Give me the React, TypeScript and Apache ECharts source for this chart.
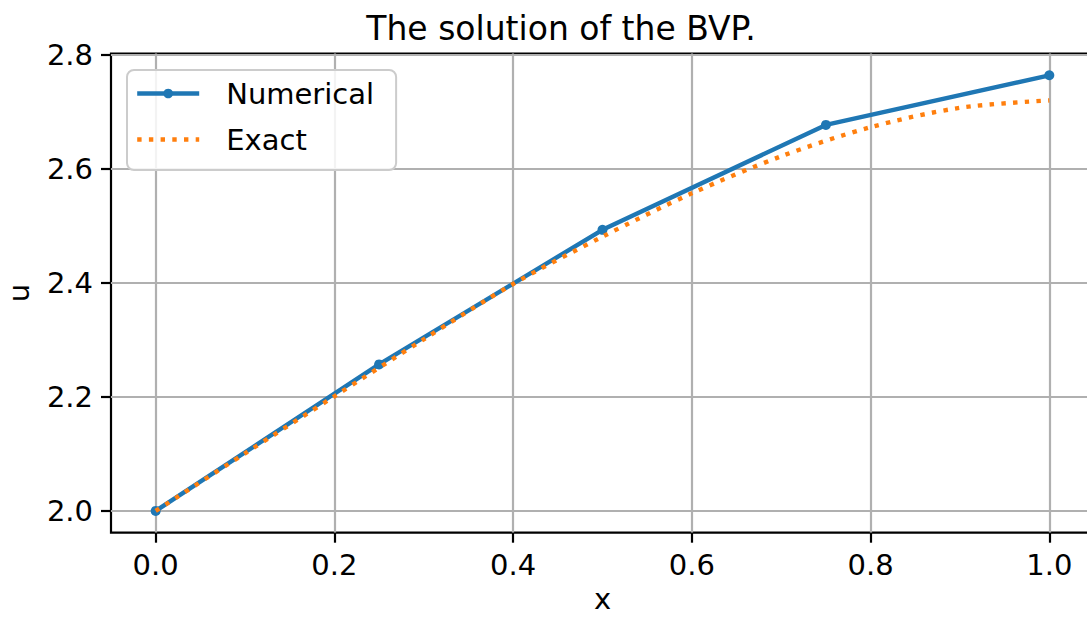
import React, { useEffect, useRef } from "react";
import * as echarts from "echarts";

// Numerical solution (nodes)
const numX: number[] = [0, 0.25, 0.5, 0.75, 1.0];
const numU: number[] = [2.0, 2.257, 2.493, 2.677, 2.764];

// Exact solution (sampled)
const exactX: number[] = [0, 0.1, 0.2, 0.3, 0.4, 0.5, 0.6, 0.7, 0.8, 0.9, 1.0];
const exactU: number[] = [2.0, 2.101, 2.201, 2.301, 2.398, 2.481, 2.557, 2.622, 2.673, 2.707, 2.72];

const xTicks: number[] = [0.0, 0.2, 0.4, 0.6, 0.8, 1.0];
const yTicks: number[] = [2.0, 2.2, 2.4, 2.6, 2.8];

const FONT = "DejaVu Sans";

export default function App() {
  const ref = useRef<HTMLDivElement>(null);
  useEffect(() => {
    if (!ref.current) return;
    const chart = echarts.init(ref.current, undefined, { renderer: "svg" });
    const allU = numU.concat(exactU);
    const uMin = Math.min(...allU);
    const uMax = Math.max(...allU);
    const uPad = (uMax - uMin) * 0.05;
    const xPad = (1.0 - 0.0) * 0.05;
    chart.setOption({
      animation: false,
      backgroundColor: "#ffffff",
      title: {
        text: "The solution of the BVP.",
        left: 556,
        top: 7,
        textAlign: "center",
        textStyle: { fontFamily: FONT, fontSize: 33, fontWeight: "normal", color: "#000" },
      },
      legend: {
        orient: "vertical",
        left: 127,
        top: 70,
        itemWidth: 62,
        itemHeight: 12,
        itemGap: 17,
        padding: [9, 22, 16, 8],
        backgroundColor: "rgba(255,255,255,0.85)",
        borderColor: "#cccccc",
        borderWidth: 2,
        borderRadius: 7,
        lineStyle: { width: 4.4 },
        data: [
          { name: "Numerical" },
          { name: "Exact", itemStyle: { color: "rgba(0,0,0,0)", borderWidth: 0 } },
        ],
        textStyle: { fontFamily: FONT, fontSize: 29, color: "#000", padding: [0, 0, 0, 22] },
      },
      grid: {
        left: 111,
        right: -7,
        top: 53.5,
        bottom: 84.3,
        outerBoundsMode: "none",
        containLabel: false,
        show: true,
        borderColor: "#000",
        borderWidth: 2.2,
        backgroundColor: "transparent",
      },
      xAxis: {
        type: "value",
        min: 0 - xPad,
        max: 1 + xPad,
        name: "x",
        nameLocation: "middle",
        nameGap: 54,
        nameTextStyle: { fontFamily: FONT, fontSize: 29, lineHeight: 24, color: "#000" },
        axisLine: { show: false, onZero: false },
        axisTick: {
          show: true,
          inside: false,
          length: 10,
          customValues: xTicks,
          lineStyle: { color: "#000", width: 2.2 },
        },
        axisLabel: {
          customValues: xTicks,
          margin: 18,
          fontFamily: FONT,
          fontSize: 29,
          color: "#000",
          formatter: (v: number) => v.toFixed(1),
        },
        splitLine: { show: true, lineStyle: { color: "#b0b0b0", width: 2.2 } },
      },
      yAxis: {
        type: "value",
        min: uMin - uPad,
        max: uMax + uPad,
        name: "u",
        nameLocation: "middle",
        nameGap: 78,
        nameRotate: 90,
        nameTextStyle: { fontFamily: FONT, fontSize: 29, color: "#000" },
        axisLine: { show: false, onZero: false },
        axisTick: {
          show: true,
          inside: false,
          length: 10,
          customValues: yTicks,
          lineStyle: { color: "#000", width: 2.2 },
        },
        axisLabel: {
          customValues: yTicks,
          margin: 18,
          fontFamily: FONT,
          fontSize: 29,
          color: "#000",
          formatter: (v: number) => v.toFixed(1),
        },
        splitLine: { show: true, lineStyle: { color: "#b0b0b0", width: 2.2 } },
      },
      series: [
        {
          name: "Numerical",
          type: "line",
          data: numX.map((x, i) => [x, numU[i]]),
          symbol: "circle",
          symbolSize: 10,
          showSymbol: true,
          itemStyle: { color: "#1f77b4" },
          lineStyle: { color: "#1f77b4", width: 4.4 },
          z: 3,
        },
        {
          name: "Exact",
          type: "line",
          data: exactX.map((x, i) => [x, exactU[i]]),
          symbol: "none",
          smooth: 0.3,
          itemStyle: { color: "#ff7f0e" },
          lineStyle: { color: "#ff7f0e", width: 4.4, type: [4.4, 7.3], cap: "butt" },
          z: 4,
        },
      ],
    });
    return () => chart.dispose();
  }, []);
  return (
    <div
      ref={ref}
      style={{ position: "absolute", left: 0, top: 0, width: 1087, height: 617 }}
    />
  );
}
